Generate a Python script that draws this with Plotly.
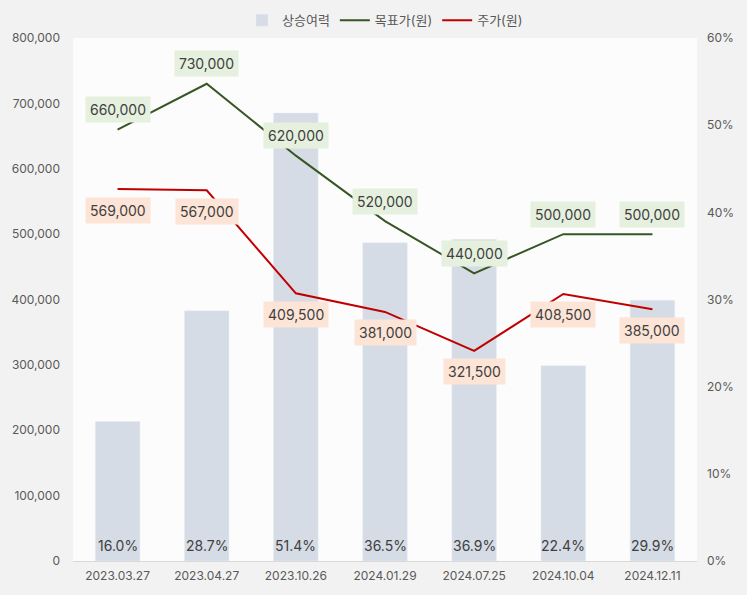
import plotly.graph_objects as go

dates = ["2023.03.27", "2023.04.27", "2023.10.26", "2024.01.29", "2024.07.25", "2024.10.04", "2024.12.11"]
upside = [16.0, 28.7, 51.4, 36.5, 36.9, 22.4, 29.9]
target_price = [660000, 730000, 620000, 520000, 440000, 500000, 500000]
stock_price = [569000, 567000, 409500, 381000, 321500, 408500, 385000]
pct_ticks = [0, 10, 20, 30, 40, 50, 60]
price_ticks = [0, 100000, 200000, 300000, 400000, 500000, 600000, 700000, 800000]

FONT = "Inter, 'Noto Sans CJK KR', sans-serif"
TXT = "#404040"
AX = "#595959"

fig = go.Figure()
# bars on primary (right-side percent) axis, lines on overlaying price axis -> lines drawn on top
fig.add_trace(go.Bar(x=dates, y=upside, name="상승여력", marker_color="#d6dce5",
                     width=0.5, yaxis="y", hoverinfo="skip"))
fig.add_trace(go.Scatter(x=dates, y=target_price, name="목표가(원)", mode="lines", yaxis="y2",
                         line=dict(color="#375623", width=2)))
fig.add_trace(go.Scatter(x=dates, y=stock_price, name="주가(원)", mode="lines", yaxis="y2",
                         line=dict(color="#c00000", width=2)))

ann = []
for d, v in zip(dates, target_price):
    ann.append(dict(x=d, y=v, xref="x", yref="y2", text=f"{v:,}", showarrow=False,
                    yshift=20, bgcolor="#e6f0de", borderpad=4,
                    font=dict(family=FONT, size=14, color=TXT)))
for d, v in zip(dates, stock_price):
    ann.append(dict(x=d, y=v, xref="x", yref="y2", text=f"{v:,}", showarrow=False,
                    yshift=-21, bgcolor="#fce4d6", borderpad=4,
                    font=dict(family=FONT, size=14, color=TXT)))
for d, v in zip(dates, upside):
    ann.append(dict(x=d, y=0, xref="x", yref="y", text=f"{v:.1f}%", showarrow=False,
                    yshift=16, font=dict(family=FONT, size=14, color=TXT)))

fig.update_layout(
    width=747, height=595,
    margin=dict(l=73, r=50, t=38, b=34, autoexpand=False),
    paper_bgcolor="#f2f2f2", plot_bgcolor="#fcfcfc",
    font=dict(family=FONT, size=12, color=AX),
    showlegend=True,
    legend=dict(orientation="h", x=0.5, xanchor="center", y=1.034, yanchor="middle",
                bgcolor="rgba(0,0,0,0)", font=dict(size=13, color=AX),
                traceorder="normal"),
    xaxis=dict(type="category", showgrid=False, showline=True, linecolor="#d9d9d9",
               linewidth=1, ticks="", tickfont=dict(size=12, color=AX), ticklabelstandoff=4),
    yaxis=dict(range=[0, 60], side="right", tickmode="array", tickvals=pct_ticks,
               ticktext=[f"{t}%" for t in pct_ticks],
               showgrid=False, zeroline=False, ticks="", ticklabelstandoff=9,
               tickfont=dict(size=12, color=AX)),
    yaxis2=dict(range=[0, 800000], overlaying="y", side="left", tickmode="array",
                tickvals=price_ticks, ticktext=[f"{t:,}" for t in price_ticks],
                showgrid=False, zeroline=False, ticks="", ticklabelstandoff=12,
                tickfont=dict(size=12, color=AX)),
    annotations=ann,
)
fig.write_html(
    "out.html",
    config={"displayModeBar": False},
    post_script="document.body.style.margin='0';document.body.style.background='#f2f2f2';",
)
